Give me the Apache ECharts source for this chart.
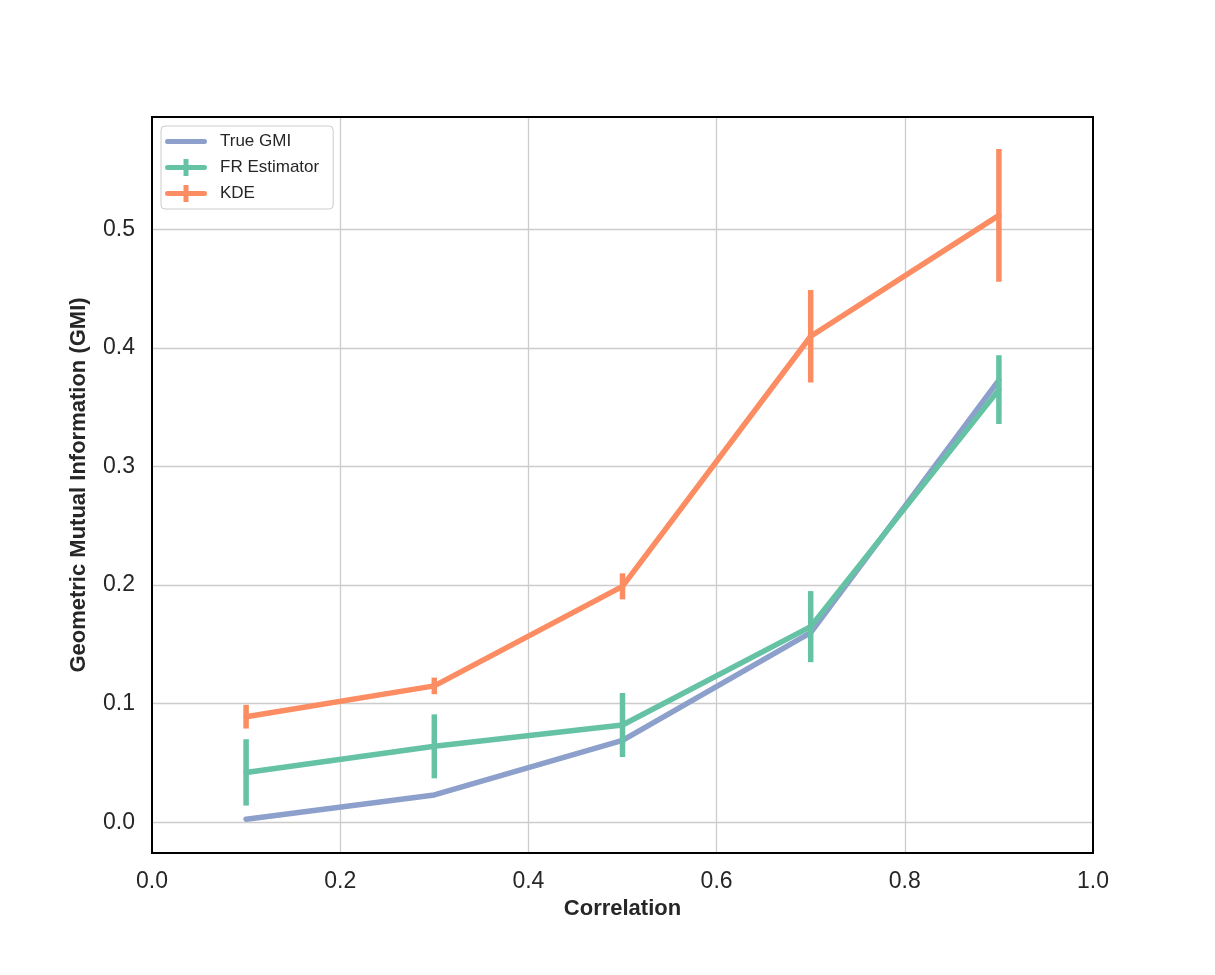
<!DOCTYPE html>
<html>
<head>
<meta charset="utf-8">
<script src="https://cdn.jsdelivr.net/npm/echarts@6/dist/echarts.min.js"></script>
<style>
  html, body { margin: 0; padding: 0; background: #fff; }
  #chart { width: 1215px; height: 975px; }
</style>
</head>
<body>
<div id="chart"></div>
<script>
  // data
  var correlation = [0.1, 0.3, 0.5, 0.7, 0.9];
  var trueGmi = [0.0025, 0.023, 0.069, 0.160, 0.373];
  var frMean = [0.042, 0.064, 0.082, 0.165, 0.365];
  var frErr = [0.028, 0.027, 0.027, 0.030, 0.029];
  var kdeMean = [0.089, 0.115, 0.199, 0.410, 0.512];
  var kdeErr = [0.010, 0.007, 0.011, 0.039, 0.056];
  var yTicks = [0, 0.1, 0.2, 0.3, 0.4, 0.5];

  var blue = '#8da0cb', green = '#66c2a5', orange = '#fc8d62';
  var font = 'Arial, "Liberation Sans", sans-serif';

  function pairs(ys) {
    return correlation.map(function (x, i) { return [x, ys[i]]; });
  }
  function bars(ys, errs) {
    return correlation.map(function (x, i) { return [x, ys[i] - errs[i], ys[i] + errs[i]]; });
  }
  function errorBar(color) {
    return function (params, api) {
      var a = api.coord([api.value(0), api.value(1)]);
      var b = api.coord([api.value(0), api.value(2)]);
      return {
        type: 'line',
        shape: { x1: a[0], y1: a[1], x2: b[0], y2: b[1] },
        style: { stroke: color, lineWidth: 5.5 }
      };
    };
  }

  // legend icons (42 x 17 box)
  var lineIcon = 'path://M0,0L0,0ZM42,17L42,17ZM2.5,6L39.5,6A2.5,2.5 0 0 1 39.5,11L2.5,11A2.5,2.5 0 0 1 2.5,6Z';
  var barIcon = 'path://M0,0L0,0ZM42,17L42,17ZM2.5,6L18.5,6L18.5,0L23.5,0L23.5,6L39.5,6A2.5,2.5 0 0 1 39.5,11L23.5,11L23.5,17L18.5,17L18.5,11L2.5,11A2.5,2.5 0 0 1 2.5,6Z';

  var myChart = echarts.init(document.getElementById('chart'));
  var option = {
    backgroundColor: '#fff',
    animation: false,
    textStyle: { fontFamily: font },
    grid: {
      left: 152, right: 122, top: 117, bottom: 122,
      show: true, borderColor: '#000', borderWidth: 2, z: 5
    },
    legend: {
      left: 161, top: 126,
      orient: 'vertical',
      backgroundColor: '#fff',
      borderColor: '#cccccc', borderWidth: 1, borderRadius: 4,
      padding: [7, 14, 7, 4],
      itemWidth: 42, itemHeight: 17, itemGap: 9,
      textStyle: { fontSize: 17, color: '#262626', padding: [0, 0, 0, 8] },
      data: [
        { name: 'True GMI', icon: lineIcon, itemStyle: { color: blue } },
        { name: 'FR Estimator', icon: barIcon, itemStyle: { color: green } },
        { name: 'KDE', icon: barIcon, itemStyle: { color: orange } }
      ]
    },
    xAxis: {
      type: 'value',
      min: 0, max: 1, interval: 0.2,
      name: 'Correlation',
      nameLocation: 'middle',
      nameGap: 32,
      nameTextStyle: { fontSize: 22, fontWeight: 'bold', color: '#262626' },
      axisLine: { show: false },
      axisTick: { show: false },
      axisLabel: {
        fontSize: 23, color: '#262626', margin: 17,
        formatter: function (v) { return v.toFixed(1); }
      },
      splitLine: { show: true, showMinLine: false, showMaxLine: false, lineStyle: { color: '#cccccc', width: 1.3 } }
    },
    yAxis: {
      type: 'value',
      min: -0.026, max: 0.595,
      name: 'Geometric Mutual Information (GMI)',
      nameLocation: 'middle',
      nameGap: 62,
      nameTextStyle: { fontSize: 22, fontWeight: 'bold', color: '#262626' },
      axisLine: { show: false },
      axisTick: { show: false, customValues: yTicks },
      axisLabel: {
        fontSize: 23, color: '#262626', margin: 17,
        customValues: yTicks,
        formatter: function (v) { return v.toFixed(1); }
      },
      splitLine: { show: true, lineStyle: { color: '#cccccc', width: 1.3 } }
    },
    series: [
      {
        name: 'True GMI', type: 'line', data: pairs(trueGmi),
        showSymbol: false, z: 2,
        itemStyle: { color: blue },
        lineStyle: { color: blue, width: 5.5, cap: 'round' }
      },
      {
        name: 'FR Estimator', type: 'line', data: pairs(frMean),
        showSymbol: false, z: 3,
        itemStyle: { color: green },
        lineStyle: { color: green, width: 5.5, cap: 'round' }
      },
      {
        name: 'FR Estimator', type: 'custom', data: bars(frMean, frErr),
        encode: { x: 0, y: [1, 2] }, z: 3,
        itemStyle: { color: green },
        renderItem: errorBar(green)
      },
      {
        name: 'KDE', type: 'line', data: pairs(kdeMean),
        showSymbol: false, z: 4,
        itemStyle: { color: orange },
        lineStyle: { color: orange, width: 5.5, cap: 'round' }
      },
      {
        name: 'KDE', type: 'custom', data: bars(kdeMean, kdeErr),
        encode: { x: 0, y: [1, 2] }, z: 4,
        itemStyle: { color: orange },
        renderItem: errorBar(orange)
      }
    ]
  };
  myChart.setOption(option);
</script>
</body>
</html>
